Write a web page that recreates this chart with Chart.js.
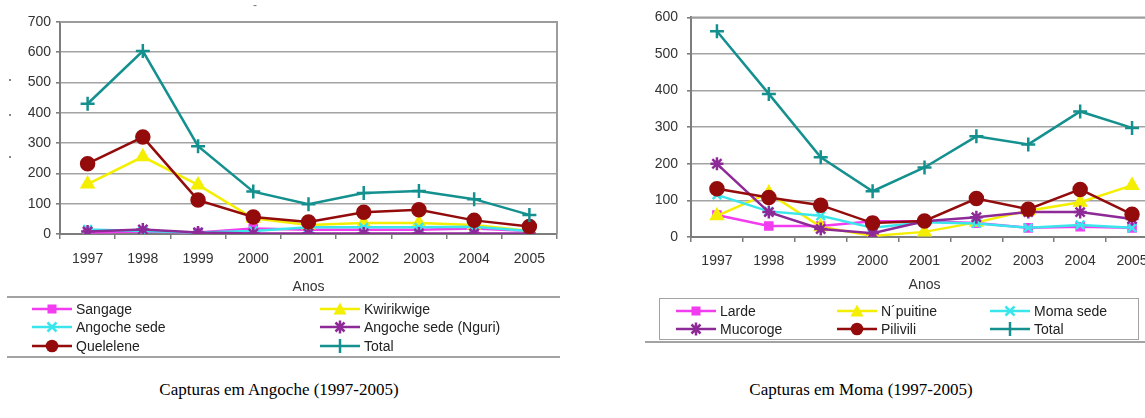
<!DOCTYPE html>
<html><head><meta charset="utf-8">
<script src="https://cdn.jsdelivr.net/npm/chart.js@4.4.1/dist/chart.umd.min.js"></script>
<style>
html,body{margin:0;padding:0;width:1145px;height:418px;overflow:hidden;background:#fff;}
#wrap{position:relative;width:1145px;height:418px;overflow:hidden;}
canvas{position:absolute;top:0;}
.leg{position:absolute;font:14px "Liberation Sans",Arial,sans-serif;color:#222;white-space:nowrap;line-height:17px;height:17px;}
.leg svg{position:absolute;left:0;top:1px;}
.leg span{position:absolute;top:0;}
.cap{position:absolute;font:17px "Liberation Serif","Times New Roman",serif;color:#000;white-space:nowrap;transform:translateX(-50%);}
.rule{position:absolute;height:0;border-top:2px solid #a3a3a3;}
.box{position:absolute;border:1.5px solid #a3a3a3;box-sizing:border-box;}
.mark{position:absolute;font:12px "Liberation Sans",Arial,sans-serif;color:#777;}
.dot{position:absolute;width:2px;height:2px;background:#888;}
</style></head>
<body><div id="wrap">
<canvas id="c1" width="575" height="300" style="left:0"></canvas>
<canvas id="c2" width="575" height="300" style="left:600px"></canvas>
</div>
<script>
// ---------- data ----------
const years = ['1997','1998','1999','2000','2001','2002','2003','2004','2005'];

// Angoche
const sangage      = [5, 8, 5, 18, 14, 14, 14, 18, 10];
const kwirikwige   = [165, 255, 162, 52, 30, 36, 36, 30, 10];
const angocheSede  = [15, 10, 5, 10, 22, 22, 22, 24, 10];
const angocheNguri = [8, 15, 5, 2, 2, 2, 2, 2, 2];
const quelelene    = [232, 320, 112, 56, 40, 72, 80, 45, 25];
const totalAngoche = [430, 604, 290, 140, 98, 135, 142, 115, 63];

// Moma
const larde     = [60, 30, 30, 43, 43, 38, 25, 28, 25];
const npuitine  = [58, 120, 28, 3, 14, 40, 72, 95, 141];
const momaSede  = [115, 70, 58, 25, 40, 37, 25, 33, 25];
const mucoroge  = [200, 68, 22, 10, 43, 54, 68, 68, 49];
const pilivili  = [132, 108, 87, 38, 44, 105, 76, 130, 62];
const totalMoma = [562, 391, 218, 125, 190, 275, 253, 343, 298];

const angocheNames = ['Sangage','Kwirikwige','Angoche sede','Angoche sede (Nguri)','Quelelene','Total'];
const momaNames    = ['Larde','N\u00b4puitine','Moma sede','Mucoroge','Pilivili','Total'];
const xTitle = 'Anos';

// ---------- styles ----------
const C = {mag:'#f23cf0', yel:'#f4ef00', cya:'#3ae6ec', pur:'#8e2a98', mar:'#930b0b', tea:'#14908f'};
const styles = [
  {color:C.mag, ps:'rect', r:5},
  {color:C.yel, ps:'triangle', r:6.5},
  {color:C.cya, ps:'crossRot', r:6},
  {color:C.pur, ps:'star', r:6.5},
  {color:C.mar, ps:'circle', r:6.5},
  {color:C.tea, ps:'cross', r:7}
];
const FONT = '"Liberation Sans", Arial, sans-serif';

const frame = {id:'frame', beforeDatasetsDraw(c){
  const {ctx, chartArea:a} = c; ctx.save();
  ctx.strokeStyle='#9c9c9c'; ctx.lineWidth=2;
  ctx.beginPath(); ctx.moveTo(a.left,a.top); ctx.lineTo(a.right,a.top); ctx.lineTo(a.right,a.bottom); ctx.stroke();
  ctx.restore();
}};

function makeChart(id, names, series, o){
  const datasets = series.map((d,i)=>({
    label:names[i], data:d,
    borderColor:styles[i].color, backgroundColor:styles[i].color,
    pointStyle:styles[i].ps, pointRadius:styles[i].r,
    pointBorderColor:styles[i].color, pointBackgroundColor:styles[i].color,
    pointBorderWidth:2.5, borderWidth:2.5, tension:0,
    order: series.length-1-i
  }));
  return new Chart(document.getElementById(id), {
    type:'line',
    data:{labels:years, datasets},
    plugins:[frame],
    options:{
      responsive:false, animation:false, devicePixelRatio:1,
      layout:{padding:{left:0,right:o.padRight,top:o.padTop,bottom:0}},
      plugins:{legend:{display:false}, tooltip:{enabled:false}},
      scales:{
        x:{
          offset:true,
          grid:{offset:true, drawOnChartArea:false, drawTicks:true, tickLength:5, color:'#7d7d7d', lineWidth:1.5},
          border:{color:'#7d7d7d', width:2},
          ticks:{color:'#333', font:{family:FONT,size:14}, padding:o.xPad, maxRotation:0, autoSkip:false},
          title:{display:true, text:xTitle, color:'#333', font:{family:FONT,size:14}, padding:{top:0,bottom:o.titlePad}},
          afterFit(s){ s.height = o.xHeight; }
        },
        y:{
          min:0, max:o.max,
          ticks:{stepSize:100, color:'#333', font:{family:FONT,size:14}, padding:o.yPad},
          grid:{color:'#a3a3a3', lineWidth:1.6, tickLength:4, tickColor:'#7d7d7d'},
          border:{color:'#7d7d7d', width:2},
          afterFit(s){ s.width = o.yWidth; }
        }
      }
    }
  });
}

makeChart('c1', angocheNames, [sangage,kwirikwige,angocheSede,angocheNguri,quelelene,totalAngoche],
  {max:700, padRight:18, padTop:22, xHeight:66, yWidth:60, xPad:12, yPad:5, titlePad:4});
makeChart('c2', momaNames, [larde,npuitine,momaSede,mucoroge,pilivili,totalMoma],
  {max:600, padRight:17, padTop:16, xHeight:63, yWidth:91, xPad:11, yPad:9, titlePad:6});

// ---------- legends (HTML) ----------
function icon(st){
  const c = st.color; let m='';
  if(st.ps==='rect') m=`<rect x="15.5" y="2.5" width="9" height="9" fill="${c}"/>`;
  else if(st.ps==='triangle') m=`<polygon points="20,0.5 26.5,12.5 13.5,12.5" fill="${c}"/>`;
  else if(st.ps==='crossRot') m=`<path d="M15.5 2.5L24.5 11.5M24.5 2.5L15.5 11.5" stroke="${c}" stroke-width="2.5"/>`;
  else if(st.ps==='star') m=`<path d="M15.5 2.5L24.5 11.5M24.5 2.5L15.5 11.5M20 0.5V13.5" stroke="${c}" stroke-width="2.5"/>`;
  else if(st.ps==='circle') m=`<circle cx="20" cy="7" r="6.3" fill="${c}"/>`;
  else if(st.ps==='cross') m=`<path d="M20 0V14" stroke="${c}" stroke-width="2.5"/>`;
  return `<svg width="40" height="14" viewBox="0 0 40 14"><line x1="0" y1="7" x2="40" y2="7" stroke="${c}" stroke-width="2.5"/>${m}</svg>`;
}
const wrap = document.getElementById('wrap');
function add(html){ const d=document.createElement('div'); d.innerHTML=html; wrap.appendChild(d.firstChild); }
function legItem(name, st, x, yc){
  add(`<div class="leg" style="left:${x}px;top:${yc-8.5}px">${icon(st)}<span style="left:44px">${name}</span></div>`);
}
// Angoche legend: 2 columns, 3 rows
add('<div class="rule" style="left:7px;top:296px;width:553px"></div>');
add('<div class="rule" style="left:7px;top:356px;width:553px"></div>');
const aCols=[32,320], aRows=[309,327,346];
angocheNames.forEach((n,i)=>legItem(n, styles[i], aCols[i%2], aRows[Math.floor(i/2)]));
// Moma legend: 3 columns, 2 rows
add('<div class="box" style="left:659px;top:298px;width:480px;height:42px"></div>');
add('<div class="rule" style="left:645px;top:341px;width:520px"></div>');
const mCols=[676,837,990], mRows=[311,329];
momaNames.forEach((n,i)=>legItem(n, styles[i], mCols[i%3], mRows[Math.floor(i/3)]));

// captions
add('<div class="cap" style="left:279px;top:380px">Capturas em Angoche (1997-2005)</div>');
add('<div class="cap" style="left:861px;top:380px">Capturas em Moma (1997-2005)</div>');
// small scan marks
add('<div class="mark" style="left:253px;top:-2px">-</div>');
add('<div class="dot" style="left:9px;top:79px"></div>');
add('<div class="dot" style="left:9px;top:114px"></div>');
add('<div class="dot" style="left:9px;top:156px"></div>');
</script>
</body></html>
